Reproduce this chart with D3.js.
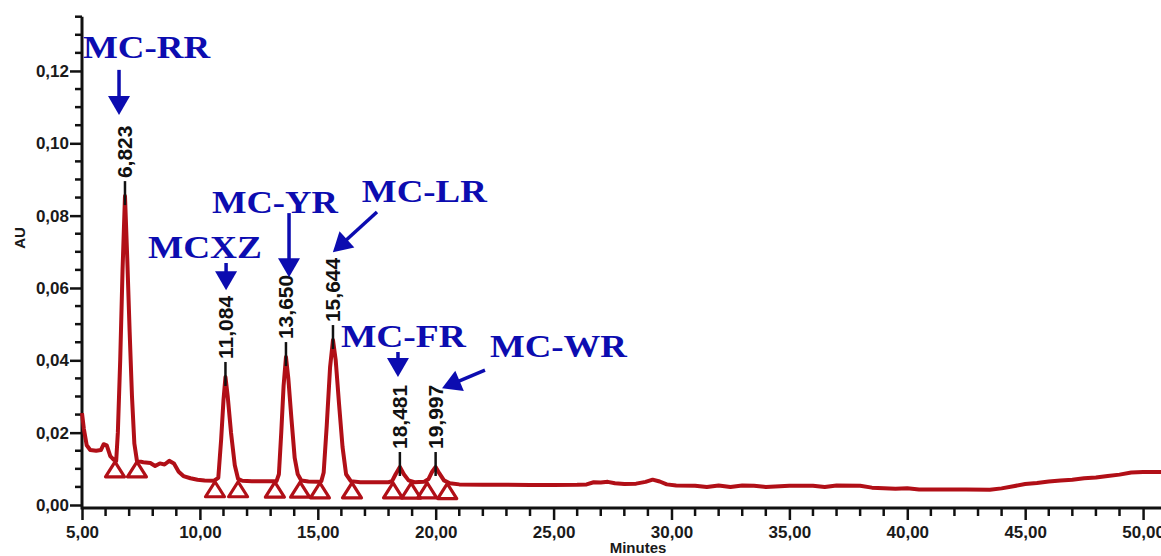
<!DOCTYPE html>
<html><head><meta charset="utf-8">
<script src="https://cdn.jsdelivr.net/npm/d3@7"></script>
<style>html,body{margin:0;padding:0;background:#fff;}svg{display:block;}</style>
</head><body>
<svg id="c" width="1161" height="556"></svg>
<script>
// ---- data ----
const traceTime = [5.00,5.08,5.20,5.35,5.60,5.80,5.92,6.05,6.20,6.35,6.45,
  6.52,6.62,6.72,6.823,6.92,7.02,7.12,7.22,7.33,
  7.60,7.90,8.10,8.30,8.50,8.70,8.90,9.10,9.30,9.60,9.90,10.20,10.60,
  10.78,10.90,11.00,11.084,11.18,11.32,11.48,11.62,
  11.80,12.20,12.60,13.00,13.25,
  13.35,13.45,13.55,13.65,13.75,13.88,14.02,14.15,
  14.30,14.60,15.00,15.15,
  15.25,15.38,15.52,15.644,15.76,15.90,16.05,16.20,
  16.40,16.80,17.40,18.00,18.15,
  18.30,18.481,18.65,18.85,19.10,19.50,19.70,19.85,19.997,20.15,20.35,20.60,
  21.00,22.00,23.00,24.00,25.00,26.00,26.40,26.70,27.00,27.30,27.60,28.00,28.50,28.90,29.20,29.50,29.80,
  30.20,31.00,31.50,32.00,32.50,33.00,33.50,34.00,35.00,36.00,36.50,37.00,38.00,38.50,39.50,40.00,40.50,
  41.50,42.50,43.50,44.00,44.50,45.00,45.50,46.00,46.50,47.00,47.50,48.00,48.50,49.00,49.50,50.00,50.76];
const traceAU = [0.0254,0.0210,0.0165,0.0152,0.0150,0.0152,0.0168,0.0165,0.0135,0.0125,0.0122,
  0.0200,0.0400,0.0650,0.0854,0.0680,0.0480,0.0300,0.0170,0.0122,
  0.0118,0.0116,0.0108,0.0115,0.0112,0.0122,0.0115,0.0092,0.0080,0.0074,0.0070,0.0068,0.0067,
  0.0075,0.0180,0.0290,0.0354,0.0300,0.0200,0.0110,0.0072,
  0.0067,0.0066,0.0066,0.0066,0.0066,
  0.0085,0.0200,0.0330,0.0409,0.0350,0.0240,0.0130,0.0085,
  0.0068,0.0065,0.0064,0.0066,
  0.0090,0.0220,0.0380,0.0456,0.0400,0.0280,0.0160,0.0085,
  0.0066,0.0063,0.0063,0.0063,0.0066,
  0.0085,0.0105,0.0085,0.0068,0.0063,0.0064,0.0072,0.0092,0.0105,0.0088,0.0068,0.0060,
  0.0057,0.0056,0.0056,0.0055,0.0055,0.0056,0.0057,0.0063,0.0062,0.0064,0.0060,0.0058,0.0059,0.0064,0.0070,0.0065,0.0057,
  0.0054,0.0053,0.0050,0.0054,0.0050,0.0054,0.0053,0.0050,0.0053,0.0053,0.0050,0.0054,0.0053,0.0048,0.0045,0.0046,0.0043,
  0.0043,0.0043,0.0042,0.0046,0.0052,0.0058,0.0061,0.0065,0.0068,0.0070,0.0074,0.0076,0.0080,0.0084,0.0090,0.0091,0.0091];

const peakTimes = [6.823, 11.084, 13.650, 15.644, 18.481, 19.997];
const peakAU    = [0.0854, 0.0354, 0.0409, 0.0456, 0.0105, 0.0105];

const markerTimes = [6.40, 7.33, 10.64, 11.62, 13.18, 14.25, 15.09, 16.45, 18.19, 18.96, 19.64, 20.49];
const markerAU    = [0.0122, 0.0122, 0.0067, 0.0067, 0.0066, 0.0066, 0.0064, 0.0064, 0.0064, 0.0063, 0.0064, 0.0062];

const compoundNames = ["MC-RR", "MCXZ", "MC-YR", "MC-LR", "MC-FR", "MC-WR"];
// text anchor (left time, baseline AU, span in minutes) and arrow (from -> to) in data units
const nameTime  = [5.04, 7.80, 10.51, 16.87, 15.98, 22.30];
const nameAU    = [0.1236, 0.0683, 0.0807, 0.0838, 0.0437, 0.0409];
const nameSpan  = [5.39, 4.83, 5.34, 5.30, 5.30, 5.81];
const arrowFromT = [6.57, 11.11, 13.78, 17.51, 18.40, 22.09];
const arrowFromV = [0.1203, 0.0669, 0.0807, 0.0810, 0.0423, 0.0373];
const arrowToT   = [6.57, 11.11, 13.78, 15.64, 18.40, 20.27];
const arrowToV   = [0.1078, 0.0594, 0.0630, 0.0699, 0.0354, 0.0323];

const xMajor = [5,10,15,20,25,30,35,40,45,50];
const yMajor = [0,0.02,0.04,0.06,0.08,0.10,0.12];

// ---- chart ----
const svg = d3.select("#c");
const x = d3.scaleLinear().domain([5, 50.76]).range([82, 1161]);
const y = d3.scaleLinear().domain([0, 0.135]).range([505, 16.7]);
const fmt = d => d3.format(".2f")(d).replace(".", ",");
const RED = "#b10f17", BLUE = "#0c0cb0";
const SANS = "Liberation Sans, Arial, sans-serif";

// axes
const xAxisY = y(0) + 3;
const xAxis = d3.axisBottom(x).tickValues(xMajor).tickFormat(fmt).tickSize(12).tickPadding(6);
const gx = svg.append("g").attr("transform", `translate(0,${xAxisY})`).call(xAxis);
gx.select(".domain").remove();
gx.selectAll(".tick line").attr("stroke", "#111").attr("stroke-width", 2.5);
gx.selectAll("text").attr("font-family", SANS).attr("font-weight", "bold")
  .attr("font-size", 17).attr("fill", "#1a1a1a");
const xMinor = d3.range(5, 51, 1).filter(v => v % 5 !== 0);
svg.append("g").selectAll("line").data(xMinor).join("line")
  .attr("x1", d => x(d)).attr("x2", d => x(d)).attr("y1", xAxisY).attr("y2", xAxisY + 8)
  .attr("stroke", "#111").attr("stroke-width", 2.5);
svg.append("line").attr("x1", x(5)).attr("x2", 1161).attr("y1", xAxisY).attr("y2", xAxisY)
  .attr("stroke", "#111").attr("stroke-width", 3);

const yAxis = d3.axisLeft(y).tickValues(yMajor).tickFormat(fmt).tickSize(12).tickPadding(1);
const gy = svg.append("g").attr("transform", `translate(${x(5)},0)`).call(yAxis);
gy.select(".domain").remove();
gy.selectAll(".tick line").attr("stroke", "#111").attr("stroke-width", 2.5);
gy.selectAll("text").attr("font-family", SANS).attr("font-weight", "bold")
  .attr("font-size", 17).attr("fill", "#1a1a1a");
const yMinor = d3.range(0, 0.1351, 0.005).filter((v, i) => i % 4 !== 0);
svg.append("g").selectAll("line").data(yMinor).join("line")
  .attr("x1", x(5) - 7).attr("x2", x(5)).attr("y1", d => y(d)).attr("y2", d => y(d))
  .attr("stroke", "#111").attr("stroke-width", 2.5);
svg.append("line").attr("x1", x(5)).attr("x2", x(5)).attr("y1", y(0.135)).attr("y2", xAxisY + 1.5)
  .attr("stroke", "#111").attr("stroke-width", 3);

svg.append("text").attr("x", 638).attr("y", 553).attr("text-anchor", "middle")
  .attr("font-family", SANS).attr("font-weight", "bold").attr("font-size", 15)
  .attr("fill", "#1a1a1a").text("Minutes");
svg.append("text").attr("transform", "translate(25,238) rotate(-90)").attr("text-anchor", "middle")
  .attr("font-family", SANS).attr("font-weight", "bold").attr("font-size", 15)
  .attr("fill", "#1a1a1a").text("AU");

// trace
const pts = traceTime.map((t, i) => [t, traceAU[i]]);
svg.append("path").datum(pts)
  .attr("d", d3.line().x(d => x(d[0])).y(d => y(d[1])))
  .attr("fill", "none").attr("stroke", RED).attr("stroke-width", 4).attr("stroke-linejoin", "round");

// integration markers (hollow triangles hanging below the trace)
const tri = (t, v) => {
  const cx = x(t), cy = y(v) + 1;
  return `M${cx},${cy}L${cx + 9.5},${cy + 15}L${cx - 9.5},${cy + 15}Z`;
};
svg.append("g").selectAll("path").data(markerTimes).join("path")
  .attr("d", (t, i) => tri(t, markerAU[i]))
  .attr("fill", "none").attr("stroke", RED).attr("stroke-width", 3.2).attr("stroke-linejoin", "round");

// peak apex markers and retention-time labels
const pk = svg.append("g");
peakTimes.forEach((t, i) => {
  const px = x(t), py = y(peakAU[i]);
  pk.append("line").attr("x1", px).attr("x2", px).attr("y1", py - 15).attr("y2", py + 9)
    .attr("stroke", "#111").attr("stroke-width", 2.5);
  pk.append("text").attr("transform", `translate(${px + 7.5},${py - 18}) rotate(-90)`)
    .attr("font-family", SANS).attr("font-weight", "bold").attr("font-size", 21).attr("fill", "#111")
    .text(d3.format(".3f")(t).replace(".", ","));
});

// compound annotations
const an = svg.append("g");
compoundNames.forEach((name, i) => {
  an.append("text").attr("x", x(nameTime[i])).attr("y", y(nameAU[i]))
    .attr("font-family", "Liberation Serif, Times New Roman, serif").attr("font-weight", "bold")
    .attr("font-size", 32).attr("fill", BLUE)
    .attr("textLength", x(nameTime[i] + nameSpan[i]) - x(nameTime[i])).attr("lengthAdjust", "spacingAndGlyphs")
    .text(name);
  const x1 = x(arrowFromT[i]), y1 = y(arrowFromV[i]), x2 = x(arrowToT[i]), y2 = y(arrowToV[i]);
  const dx = x2 - x1, dy = y2 - y1, L = Math.hypot(dx, dy), ux = dx / L, uy = dy / L;
  const hl = 19, hw = 11;
  const bx = x2 - ux * hl, by = y2 - uy * hl;
  an.append("line").attr("x1", x1).attr("y1", y1).attr("x2", bx + ux * 2).attr("y2", by + uy * 2)
    .attr("stroke", BLUE).attr("stroke-width", 3.5);
  an.append("path")
    .attr("d", `M${x2},${y2}L${bx - uy * hw},${by + ux * hw}L${bx + uy * hw},${by - ux * hw}Z`)
    .attr("fill", BLUE);
});
</script>
</body></html>
